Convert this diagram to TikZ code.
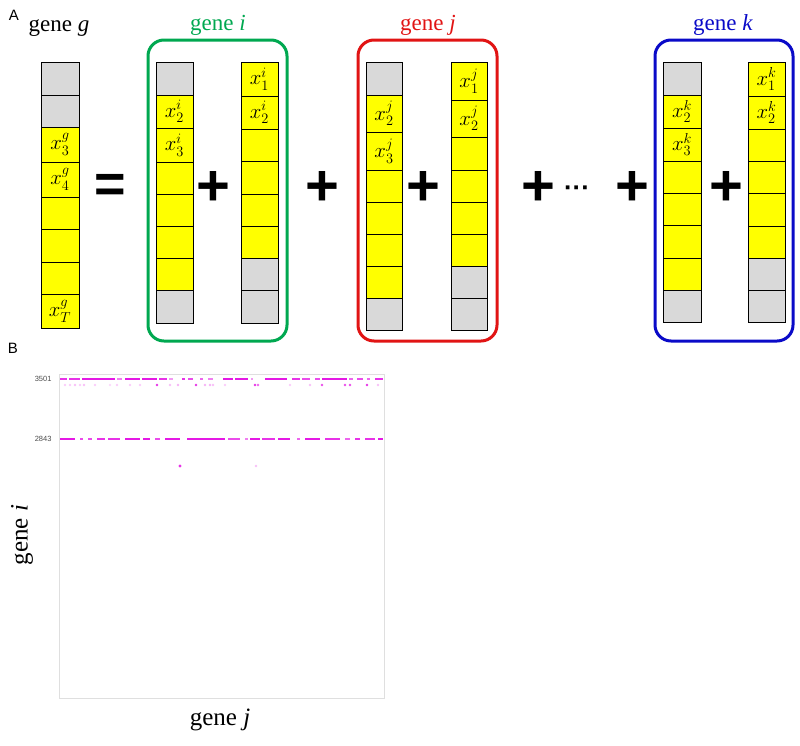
\documentclass[tikz,border=0pt]{standalone}
\usepackage{fontspec}
\setmainfont{Liberation Serif}
\setsansfont{Liberation Sans}
\usepackage{amsmath}
\usetikzlibrary{positioning}
\definecolor{cellyellow}{RGB}{255,255,0}
\definecolor{cellgray}{RGB}{217,217,217}
\definecolor{genegreen}{RGB}{0,168,80}
\definecolor{genered}{RGB}{225,20,20}
\definecolor{geneblue}{RGB}{10,10,200}
\definecolor{dotmag}{RGB}{225,0,225}

\begin{document}
\begin{tikzpicture}[x=1pt,y=-1pt,
  cell/.style={draw=black, line width=1pt},
  genebox/.style={rounded corners=16pt, line width=3pt},
  genelab/.style={font=\fontsize{23}{23}\selectfont, anchor=base},
  entry/.style={font=\fontsize{20}{20}\selectfont, inner sep=0pt},
  op/.style={font=\fontsize{58}{58}\selectfont\sffamily\bfseries, inner sep=0pt},
  hit/.style={line width=2.6pt, dotmag}]
  \useasboundingbox (0,0) rectangle (800,745);

  % Panel labels
  \node[font=\fontsize{15}{15}\selectfont\sffamily] (labA) at (14,15) {A};
  \node[font=\fontsize{15}{15}\selectfont\sffamily] (labB) at (13,348) {B};

  % gene g
  \node[genelab] (geneg) at (59,31) {gene \textit{g}};
  \foreach \ya/\yb/\c in {62/95/cellgray, 95/127/cellgray, 127/162/cellyellow, 162/197/cellyellow,
      197/229/cellyellow, 229/262/cellyellow, 262/294/cellyellow, 294/328/cellyellow} {
    \filldraw[cell, fill=\c] (41,\ya) rectangle (79,\yb);
  }
  \node[entry] (g3) at (60,144.5) {$x^g_3$};
  \node[entry] (g4) at (60,179.5) {$x^g_4$};
  \node[entry] (gT) at (60,311) {$x^g_T$};
  \node[op, font=\fontsize{54}{54}\selectfont\sffamily\bfseries] (eq) at (110,188) {=};

  % gene i
  \draw[genebox, genegreen] (148,40) rectangle (287,341);
  \node[genelab, genegreen] (genei) at (218,30) {gene \textit{i}};
  \foreach \ya/\yb/\c in {62/95/cellgray, 95/128/cellyellow, 128/162/cellyellow, 162/194/cellyellow,
      194/226/cellyellow, 226/258/cellyellow, 258/290/cellyellow, 290/323/cellgray} {
    \filldraw[cell, fill=\c] (156,\ya) rectangle (193,\yb);
  }
  \foreach \ya/\yb/\c in {62/96/cellyellow, 96/129/cellyellow, 129/161/cellyellow, 161/194/cellyellow,
      194/226/cellyellow, 226/258/cellyellow, 258/290/cellgray, 290/323/cellgray} {
    \filldraw[cell, fill=\c] (241,\ya) rectangle (278,\yb);
  }
  \node[entry] (i2a) at (174.5,111.5) {$x^i_2$};
  \node[entry] (i3a) at (174.5,145) {$x^i_3$};
  \node[entry] (i1b) at (259.5,79) {$x^i_1$};
  \node[entry] (i2b) at (259.5,112.5) {$x^i_2$};
  \node[op] (plusi) at (213,188) {+};

  \node[op] (plusij) at (322,188) {+};

  % gene j
  \draw[genebox, genered] (358,40) rectangle (497,341);
  \node[genelab, genered] (genej) at (428,30) {gene \textit{j}};
  \foreach \ya/\yb/\c in {62/95/cellgray, 95/132/cellyellow, 132/170/cellyellow, 170/202/cellyellow,
      202/234/cellyellow, 234/266/cellyellow, 266/298/cellyellow, 298/330/cellgray} {
    \filldraw[cell, fill=\c] (366,\ya) rectangle (402,\yb);
  }
  \foreach \ya/\yb/\c in {62/100/cellyellow, 100/137/cellyellow, 137/170/cellyellow, 170/202/cellyellow,
      202/234/cellyellow, 234/266/cellyellow, 266/298/cellgray, 298/330/cellgray} {
    \filldraw[cell, fill=\c] (451,\ya) rectangle (487,\yb);
  }
  \node[entry] (j2a) at (384,113.5) {$x^j_2$};
  \node[entry] (j3a) at (384,151) {$x^j_3$};
  \node[entry] (j1b) at (469,81) {$x^j_1$};
  \node[entry] (j2b) at (469,118.5) {$x^j_2$};
  \node[op] (plusj) at (423,188) {+};

  \node[op] (plusjd) at (538,188) {+};
  \node[font=\fontsize{26}{26}\selectfont\sffamily\bfseries, inner sep=0pt] (dots) at (577,191) {···};
  \node[op] (plusdk) at (632,188) {+};

  % gene k
  \draw[genebox, geneblue] (655,40) rectangle (793,341);
  \node[genelab, geneblue] (genek) at (723,30) {gene \textit{k}};
  \foreach \ya/\yb/\c in {62/95/cellgray, 95/128/cellyellow, 128/161/cellyellow, 161/193/cellyellow,
      193/225/cellyellow, 225/258/cellyellow, 258/290/cellyellow, 290/322/cellgray} {
    \filldraw[cell, fill=\c] (663,\ya) rectangle (701,\yb);
  }
  \foreach \ya/\yb/\c in {62/96/cellyellow, 96/129/cellyellow, 129/161/cellyellow, 161/193/cellyellow,
      193/226/cellyellow, 226/258/cellyellow, 258/290/cellgray, 290/322/cellgray} {
    \filldraw[cell, fill=\c] (748,\ya) rectangle (785,\yb);
  }
  \node[entry] (k2a) at (682,111.5) {$x^k_2$};
  \node[entry] (k3a) at (682,144.5) {$x^k_3$};
  \node[entry] (k1b) at (766.5,79) {$x^k_1$};
  \node[entry] (k2b) at (766.5,112.5) {$x^k_2$};
  \node[op] (plusk) at (726,188) {+};

  % Panel B: carte des paires de genes
  \draw[gray!25, line width=1pt] (59,374) rectangle (384,698);
  \node[font=\fontsize{7.5}{7.5}\selectfont\sffamily, anchor=east, gray!60!black] (t3501) at (55,379) {3501};
  \node[font=\fontsize{7.5}{7.5}\selectfont\sffamily, anchor=east, gray!60!black] (t2843) at (55,439) {2843};

  % ligne 3501
  \foreach \a/\b/\o in {60/67/.8, 69/80/.8, 82/115/.9, 117/122/.5, 125/140/.9, 142/157/.9, 159/167/.8,
      169/173/.4, 182/185/.8, 188/193/.7, 200/203/.6, 208/213/.5, 223/233/.9, 235/248/.9, 251/253/.4,
      265/287/.9, 292/300/.8, 302/310/.7, 315/320/.7, 322/347/.9, 349/353/.6, 357/363/.7, 367/370/.6,
      375/383/.8} {
    \draw[hit, opacity=\o] (\a,379) -- (\b,379);
  }
  \foreach \a/\o in {65/.2, 70/.2, 75/.25, 80/.2, 84/.25, 95/.2, 110/.15, 117/.2, 130/.2, 140/.2,
      157/.8, 170/.25, 178/.3, 196/.8, 205/.3, 210/.3, 213/.25, 225/.2, 255/.8, 258/.6, 290/.2,
      310/.25, 322/.7, 345/.7, 350/.7, 367/.8, 378/.25} {
    \fill[dotmag, opacity=\o] (\a,385) circle (1.4);
  }

  % ligne 2843
  \foreach \a/\b/\o in {60/75/.9, 80/83/.7, 88/92/.7, 97/105/.8, 108/120/.8, 125/140/.9, 143/150/.9,
      155/160/.7, 165/180/.9, 187/225/.9, 228/240/.7, 245/248/.5, 250/260/.9, 262/275/.8, 278/290/.9,
      297/300/.6, 305/320/.9, 325/340/.8, 345/350/.6, 355/360/.8, 365/375/.8, 378/383/.9} {
    \draw[hit, opacity=\o] (\a,439) -- (\b,439);
  }
  \fill[dotmag, opacity=.8] (180,466) circle (1.6);
  \fill[dotmag, opacity=.25] (256,466) circle (1.4);

  % Axes
  \node[font=\fontsize{25}{25}\selectfont, rotate=90] (axisi) at (22,535) {gene \textit{i}};
  \node[font=\fontsize{25}{25}\selectfont] (axisj) at (220,720) {gene \textit{j}};
\end{tikzpicture}
\end{document}
